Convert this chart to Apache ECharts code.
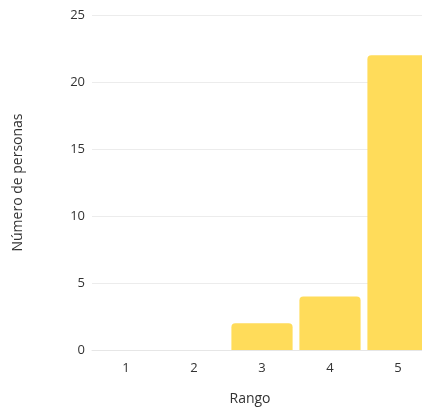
<!DOCTYPE html>
<html><head><meta charset="utf-8">
<script src="https://cdn.jsdelivr.net/npm/echarts@6/dist/echarts.min.js"></script>
<style>html,body{margin:0;padding:0;background:#fff}#c{width:422px;height:410px}</style>
</head><body><div id="c"></div>
<script>
const categories = ['1','2','3','4','5'];
const values = [0, 0, 2, 4, 22];
const yTicks = [0, 5, 10, 15, 20, 25];
const xName = 'Rango';
const yName = 'Número de personas';

const chart = echarts.init(document.getElementById('c'), null, {renderer:'canvas'});
const font = 'Open Sans';
chart.setOption({
  animation: false,
  grid: {left: 92, top: 15, width: 340, bottom: 60, containLabel: false, outerBoundsMode: 'none'},
  xAxis: {
    type: 'category', data: categories,
    name: xName, nameLocation: 'middle', nameGap: 42,
    nameTextStyle: {fontFamily: font, fontSize: 14, color: '#333', padding: [0, 24, 0, 0]},
    axisLine: {lineStyle: {color: '#e6e6e6'}},
    axisTick: {show: false},
    axisLabel: {fontFamily: font, fontSize: 13, color: '#333', margin: 12}
  },
  yAxis: {
    type: 'value', min: yTicks[0], max: yTicks[yTicks.length-1], interval: 5,
    name: yName, nameLocation: 'middle', nameGap: 67, nameRotate: 90,
    nameTextStyle: {fontFamily: font, fontSize: 14, color: '#333'},
    axisLine: {show: false}, axisTick: {show: false},
    axisLabel: {fontFamily: font, fontSize: 13, color: '#333', margin: 7},
    splitLine: {lineStyle: {color: '#ececec'}}
  },
  series: [{
    type: 'bar', data: values, barCategoryGap: '10%',
    itemStyle: {color: '#FFDC5A', borderRadius: [4, 4, 0, 0]}
  }]
});
</script></body></html>
